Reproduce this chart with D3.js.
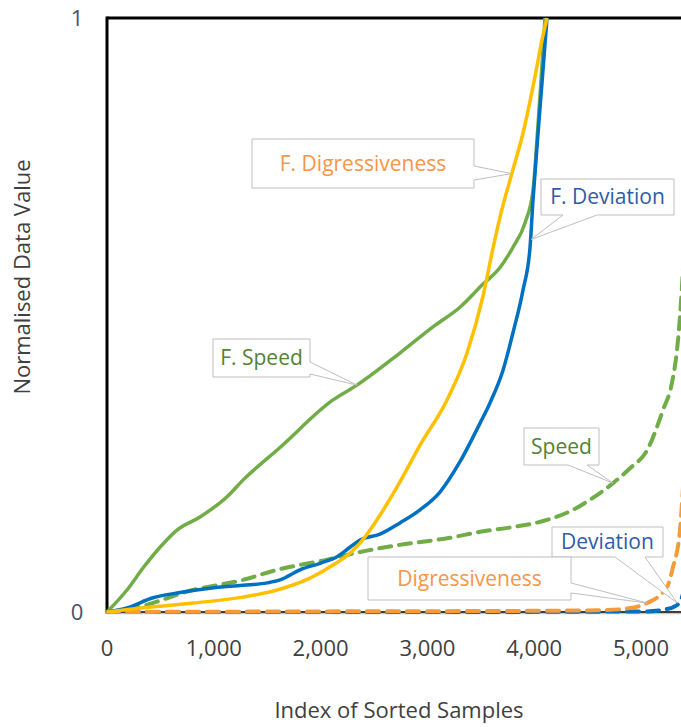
<!DOCTYPE html>
<html>
<head>
<meta charset="utf-8">
<script src="https://cdn.jsdelivr.net/npm/d3@7"></script>
<style>
  html, body { margin: 0; padding: 0; background: #fff; }
  svg { display: block; font-family: "Open Sans", Lato, sans-serif; }
</style>
</head>
<body>
<div id="chart"></div>
<script>
// data: [index of sorted sample, normalised value]
const fSpeed = [[0,0],[187,0.037],[337,0.074],[496,0.109],[655,0.138],[871,0.160],[1124,0.194],[1273,0.222],[1620,0.277],[2116,0.357],[2341,0.382],[2743,0.436],[3052,0.480],[3305,0.513],[3521,0.552],[3680,0.580],[3801,0.614],[3914,0.655],[3989,0.710],[4026,0.795],[4064,0.896],[4101,1.0]];
const fDigress = [[0,0],[337,0.007],[805,0.015],[1273,0.025],[1592,0.037],[1901,0.057],[2116,0.079],[2275,0.099],[2369,0.116],[2556,0.163],[2743,0.219],[2931,0.281],[3184,0.357],[3371,0.436],[3521,0.532],[3614,0.612],[3680,0.665],[3792,0.739],[3895,0.806],[4007,0.901],[4073,0.963],[4120,1.0]];
const fDeviation = [[0,0],[187,0.007],[431,0.024],[655,0.032],[964,0.040],[1273,0.045],[1498,0.049],[1620,0.054],[1807,0.071],[1994,0.082],[2154,0.093],[2275,0.109],[2369,0.121],[2556,0.131],[2743,0.150],[2931,0.172],[3118,0.202],[3305,0.253],[3493,0.318],[3586,0.352],[3708,0.407],[3801,0.470],[3895,0.542],[3961,0.614],[3989,0.694],[4036,0.806],[4073,0.891],[4120,1.0]];
const speed = [[0,0],[281,0.008],[805,0.037],[1273,0.054],[1592,0.071],[2060,0.088],[2369,0.101],[2743,0.113],[3212,0.125],[3493,0.135],[3801,0.143],[4120,0.155],[4363,0.172],[4522,0.189],[4738,0.217],[4897,0.242],[5056,0.272],[5206,0.340],[5290,0.386],[5337,0.441],[5365,0.497],[5400,0.600]];
const digress = [[0,0],[2000,0.001],[4000,0.002],[4600,0.003],[4831,0.005],[5056,0.015],[5243,0.042],[5300,0.076],[5365,0.138],[5420,0.300]];
const deviation = [[0,0],[3000,0.0],[5050,0.001],[5243,0.005],[5300,0.008],[5365,0.017],[5420,0.050]];

const xTicks = [0, 1000, 2000, 3000, 4000, 5000];
const yTicks = [0, 1];

const width = 681, height = 727;
const svg = d3.select('#chart').append('svg')
  .attr('width', width)
  .attr('height', height);

const x = d3.scaleLinear().domain([0, 5600]).range([107, 107 + 5600 * 0.1068]);
const y = d3.scaleLinear().domain([0, 1]).range([612, 18]);

// axis labels
const tickColor = '#404040';
svg.append('g').selectAll('text')
  .data(xTicks)
  .enter().append('text')
  .attr('x', d => x(d))
  .attr('y', 656)
  .attr('text-anchor', 'middle')
  .attr('font-size', 22)
  .attr('fill', tickColor)
  .text(d => d3.format(',')(d));

svg.append('g').selectAll('text')
  .data(yTicks)
  .enter().append('text')
  .attr('x', 77)
  .attr('y', d => y(d) + 8)
  .attr('text-anchor', 'middle')
  .attr('font-size', 22)
  .attr('fill', '#44546a')
  .text(d => d);

svg.append('text')
  .attr('x', 399)
  .attr('y', 718)
  .attr('text-anchor', 'middle')
  .attr('font-size', 22)
  .attr('fill', tickColor)
  .text('Index of Sorted Samples');

svg.append('text')
  .attr('transform', 'translate(30,277) rotate(-90)')
  .attr('text-anchor', 'middle')
  .attr('font-size', 22)
  .attr('fill', tickColor)
  .text('Normalised Data Value');

// frame
svg.append('line')
  .attr('x1', x(0)).attr('x2', width)
  .attr('y1', y(1)).attr('y2', y(1))
  .attr('stroke', '#000').attr('stroke-width', 3);
svg.append('line')
  .attr('x1', x(0)).attr('x2', x(0))
  .attr('y1', y(1) - 1.5).attr('y2', y(0))
  .attr('stroke', '#000').attr('stroke-width', 3);
svg.append('line')
  .attr('x1', x(0)).attr('x2', width)
  .attr('y1', y(0) + 1.5).attr('y2', y(0) + 1.5)
  .attr('stroke', '#c8c8c8').attr('stroke-width', 1.5);
svg.append('line')
  .attr('x1', x(0)).attr('x2', width)
  .attr('y1', y(0)).attr('y2', y(0))
  .attr('stroke', '#000').attr('stroke-width', 1.5);

// lines
const line = d3.line()
  .x(d => x(d[0]))
  .y(d => y(d[1]))
  .curve(d3.curveMonotoneX);

const series = [
  { data: speed, color: '#70ad47', dash: '12,8' },
  { data: deviation, color: '#0070c0', dash: '12,8' },
  { data: digress, color: '#f79a38', dash: '12,8' },
  { data: fSpeed, color: '#70ad47', dash: null },
  { data: fDeviation, color: '#0070c0', dash: null },
  { data: fDigress, color: '#ffc000', dash: null }
];

series.forEach(s => {
  svg.append('path')
    .datum(s.data)
    .attr('fill', 'none')
    .attr('stroke', s.color)
    .attr('stroke-width', s.dash ? 4 : 3.5)
    .attr('stroke-dasharray', s.dash)
    .attr('stroke-linecap', s.dash ? 'round' : 'butt')
    .attr('d', line);
});

// callouts
const callouts = [
  { text: 'F. Digressiveness', color: '#f79646', box: [252, 139, 474, 188], side: 'right', base: [166, 180], tip: [3790, 0.738] },
  { text: 'F. Deviation', color: '#2e5ca8', box: [541, 179, 674, 215], side: 'bottom', base: [563, 597], tip: [3970, 0.627] },
  { text: 'F. Speed', color: '#548235', box: [213, 339, 310, 377], side: 'right', base: [362, 374], tip: [2341, 0.382] },
  { text: 'Speed', color: '#548235', box: [524, 428, 599, 465], side: 'bottom', base: [568, 587], tip: [4738, 0.217] },
  { text: 'Deviation', color: '#2e5ca8', box: [552, 527, 663, 557], side: 'bottom', base: [615, 645], tip: [5340, 0.015] },
  { text: 'Digressiveness', color: '#f79646', box: [368, 557, 571, 600], side: 'right', base: [583, 593], tip: [5060, 0.015] }
];

callouts.forEach(c => {
  const [x0, y0, x1, y1] = c.box;
  const tx = x(c.tip[0]), ty = y(c.tip[1]);
  const p = d3.path();
  p.moveTo(x0, y0);
  p.lineTo(x1, y0);
  if (c.side === 'right') {
    p.lineTo(x1, c.base[0]);
    p.lineTo(tx, ty);
    p.lineTo(x1, c.base[1]);
    p.lineTo(x1, y1);
    p.lineTo(x0, y1);
  } else {
    p.lineTo(x1, y1);
    p.lineTo(c.base[1], y1);
    p.lineTo(tx, ty);
    p.lineTo(c.base[0], y1);
    p.lineTo(x0, y1);
  }
  p.closePath();
  svg.append('path')
    .attr('d', p.toString())
    .attr('fill', '#fff')
    .attr('stroke', '#bfbfbf')
    .attr('stroke-width', 1);
  svg.append('text')
    .attr('x', (x0 + x1) / 2)
    .attr('y', (y0 + y1) / 2 + 7)
    .attr('text-anchor', 'middle')
    .attr('font-size', 21)
    .attr('fill', c.color)
    .text(c.text);
});
</script>
</body>
</html>
